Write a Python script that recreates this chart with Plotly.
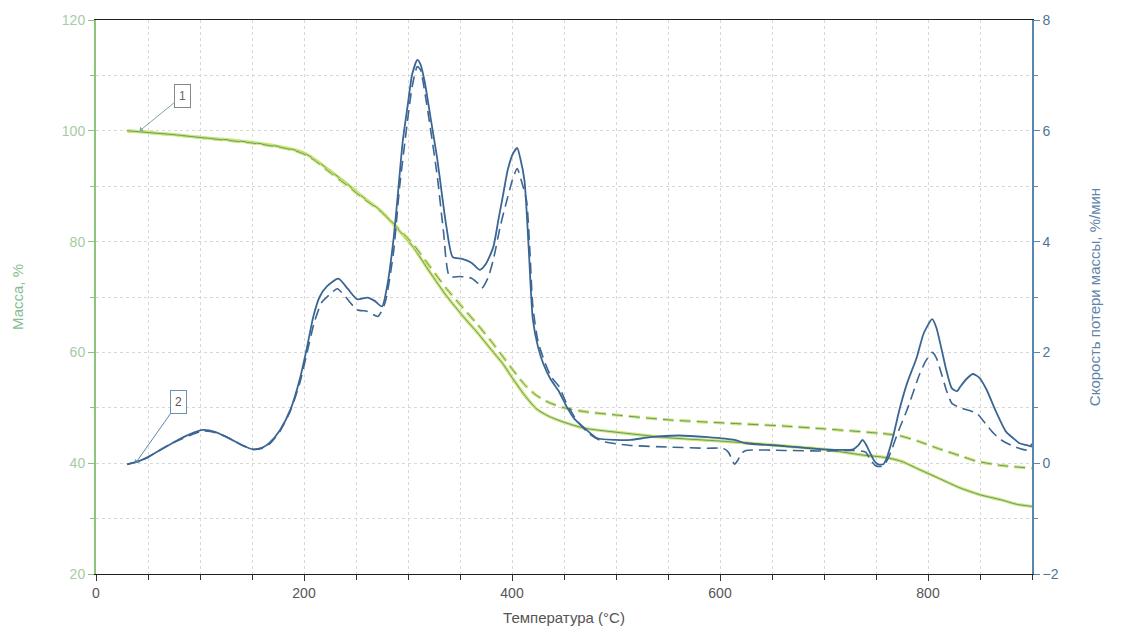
import plotly.graph_objects as go

# ---------------- data ----------------
tg_solid_T = [30, 50, 75, 100, 125, 150, 175, 190, 200, 210, 225, 241, 257, 273, 290, 305, 321, 337,
              353, 367, 380, 391, 401, 412, 423, 435, 450, 470, 500, 550, 600, 650, 700, 736, 760,
              775, 790, 809, 830, 850, 870, 885, 900]
tg_solid = [100.0, 99.7, 99.3, 98.8, 98.4, 97.9, 97.2, 96.6, 96.0, 94.9, 92.8, 90.5, 88.0, 85.7, 82.3,
            79.0, 74.5, 70.2, 66.5, 63.5, 60.5, 58.0, 55.2, 52.3, 49.9, 48.5, 47.4, 46.3, 45.6, 44.6,
            44.0, 43.3, 42.5, 41.5, 41.0, 40.3, 39.0, 37.4, 35.6, 34.3, 33.4, 32.6, 32.2]

tg_dash_T = [30, 50, 75, 100, 125, 150, 175, 190, 200, 210, 225, 241, 257, 273, 290, 305, 321, 337,
             353, 367, 380, 391, 401, 412, 423, 435, 450, 470, 500, 552, 600, 662, 700, 754, 772,
             790, 809, 830, 846, 870, 900]
tg_dash = [100.0, 99.7, 99.3, 98.8, 98.3, 97.8, 97.1, 96.5, 95.8, 94.7, 92.5, 90.2, 87.8, 85.6, 82.5,
           79.5, 75.5, 71.5, 68.0, 65.0, 62.0, 59.3, 56.8, 54.2, 52.3, 51.0, 50.0, 49.3, 48.7, 47.8,
           47.3, 46.7, 46.2, 45.4, 45.0, 44.0, 42.7, 41.4, 40.4, 39.6, 39.1]

dtg_solid_T = [30, 40, 49, 60, 74, 90, 103, 115, 129, 140, 151, 160, 167, 177, 187, 196, 203, 209, 215,
               222, 233, 242, 251, 261, 268, 275, 280, 286, 290, 295, 300, 304, 309, 312, 316, 322,
               328, 333, 337, 343, 352, 361, 369, 375, 382, 387, 391, 396, 401, 405, 408, 412, 416,
               420, 425, 430, 437, 445, 452, 460, 470, 482, 500, 514, 533, 560, 588, 614, 625, 662,
               699, 728, 733, 737, 740, 744, 748, 752, 757, 760, 766, 773, 780, 789, 796, 804, 808,
               813, 818, 823, 828, 831, 837, 843, 849, 856, 865, 875, 882, 888, 894, 900]
dtg_solid = [-0.02, 0.03, 0.1, 0.22, 0.37, 0.52, 0.6, 0.56, 0.44, 0.33, 0.25, 0.28, 0.37, 0.6, 0.97,
             1.52, 2.1, 2.65, 3.0, 3.19, 3.33, 3.15, 2.96, 2.99, 2.93, 2.83, 3.2, 4.03, 4.8, 5.82, 6.5,
             7.02, 7.28, 7.2, 6.89, 6.2, 5.51, 4.8, 4.26, 3.72, 3.69, 3.62, 3.49, 3.6, 3.9, 4.4, 4.8,
             5.3, 5.59, 5.69, 5.5, 5.1, 3.9, 2.6, 2.1, 1.8, 1.52, 1.3, 1.04, 0.8, 0.63, 0.45, 0.42,
             0.42, 0.47, 0.5, 0.47, 0.42, 0.36, 0.31, 0.25, 0.25, 0.32, 0.42, 0.35, 0.2, 0.05, -0.02,
             -0.02, 0.08, 0.45, 1.0, 1.45, 1.9, 2.35, 2.6, 2.45, 2.06, 1.65, 1.35, 1.3, 1.38, 1.52,
             1.61, 1.55, 1.34, 0.95, 0.57, 0.45, 0.36, 0.33, 0.3]

dtg_dash_T = [30, 40, 49, 60, 74, 90, 103, 115, 129, 140, 151, 160, 167, 177, 187, 196, 203, 210, 217,
              225, 232, 240, 251, 261, 271, 278, 286, 292, 299, 304, 309, 312, 317, 328, 334, 340,
              350, 361, 367, 371, 377, 382, 389, 395, 401, 405, 409, 414, 417, 420, 425, 432, 438,
              445, 452, 463, 475, 486, 500, 514, 552, 588, 603, 608, 612, 614, 617, 621, 625, 662,
              699, 728, 740, 745, 750, 757, 762, 772, 780, 792, 798, 804, 808, 813, 818, 823, 833,
              840, 847, 855, 863, 872, 882, 895, 900]
dtg_dash = [-0.02, 0.03, 0.1, 0.22, 0.37, 0.5, 0.58, 0.55, 0.44, 0.33, 0.25, 0.27, 0.35, 0.58, 0.95,
            1.45, 2.0, 2.55, 2.9, 3.05, 3.15, 3.0, 2.77, 2.74, 2.65, 2.9, 3.8, 5.0, 6.1, 6.8, 7.16,
            7.1, 6.6, 5.2, 4.2, 3.37, 3.37, 3.34, 3.25, 3.16, 3.35, 3.67, 4.3, 4.74, 5.15, 5.32, 5.1,
            4.74, 3.9, 2.84, 2.2, 1.8, 1.55, 1.39, 1.1, 0.75, 0.52, 0.4, 0.35, 0.32, 0.29, 0.27, 0.27,
            0.2, 0.05, -0.02, 0.05, 0.18, 0.23, 0.23, 0.22, 0.23, 0.2, 0.05, -0.05, -0.05, 0.1, 0.6,
            0.97, 1.61, 1.85, 2.0, 1.9, 1.61, 1.3, 1.08, 0.99, 0.95, 0.9, 0.72, 0.54, 0.4, 0.31,
            0.24, 0.35]

x_title = "Температура (°C)"
y_title = "Масса, %"
y2_title = "Скорость потери массы, %/мин"

# ---------------- styles ----------------
TG_GLOW = "#d2e56c"
TG_CORE = "#5a9a86"
DTG = "#3b6694"
TICKFONT = "Liberation Sans Narrow, Arial Narrow, Liberation Sans, sans-serif"

fig = go.Figure()

for T, v, dash in [(tg_solid_T, tg_solid, "solid"), (tg_dash_T, tg_dash, "11px,6px")]:
    fig.add_trace(go.Scatter(x=T, y=v, mode="lines", line=dict(color=TG_GLOW, width=3.2, dash=dash,
                                                               shape="spline", smoothing=0.6),
                             hoverinfo="skip", showlegend=False))
    fig.add_trace(go.Scatter(x=T, y=v, mode="lines", line=dict(color=TG_CORE, width=1.0, dash=dash,
                                                               shape="spline", smoothing=0.6),
                             showlegend=False))

fig.add_trace(go.Scatter(x=dtg_solid_T, y=dtg_solid, mode="lines", yaxis="y2",
                         line=dict(color=DTG, width=1.8, shape="spline", smoothing=0.6),
                         showlegend=False))
fig.add_trace(go.Scatter(x=dtg_dash_T, y=dtg_dash, mode="lines", yaxis="y2",
                         line=dict(color=DTG, width=1.6, dash="11px,6px", shape="spline", smoothing=0.6),
                         showlegend=False))

grid = dict(showgrid=True, gridcolor="#d8d8d8", griddash="dot", gridwidth=1)

fig.update_layout(
    width=1124, height=635,
    margin=dict(l=96, r=92, t=19, b=59),
    paper_bgcolor="white", plot_bgcolor="white",
    xaxis=dict(range=[0, 900], dtick=200, ticks="outside", ticklen=6, tickcolor="#333",
               showline=True, linecolor="#222", linewidth=1.2, mirror=True,
               tickfont=dict(family=TICKFONT, size=14, color="#555"),
               title=dict(text=x_title, font=dict(family="Liberation Sans", size=15, color="#555"),
                          standoff=12),
               zeroline=False,
               minor=dict(dtick=50, ticks="outside", ticklen=5, tickcolor="#333", **grid),
               **grid),
    yaxis=dict(range=[20, 120], dtick=20, ticks="outside", ticklen=6, tickcolor="#8cc47c",
               showline=True, linecolor="#8cc47c", linewidth=2,
               tickfont=dict(family=TICKFONT, size=14, color="#a6cba3"),
               title=dict(text=y_title, font=dict(family="Liberation Sans", size=15, color="#86bd92"),
                          standoff=35),
               zeroline=False,
               minor=dict(dtick=10, ticks="outside", ticklen=4, tickcolor="#8cc47c", **grid),
               **grid),
    yaxis2=dict(range=[-2, 8], dtick=2, overlaying="y", side="right", ticks="outside", ticklen=6,
                tickcolor="#5b86ad", showline=True, linecolor="#5b86ad", linewidth=1.5,
                tickfont=dict(family=TICKFONT, size=14, color="#4f7596"),
                title=dict(text=y2_title, font=dict(family="Liberation Sans", size=15, color="#5f84a8"),
                           standoff=32),
                zeroline=False, showgrid=False,
                minor=dict(dtick=1, ticks="outside", ticklen=4, tickcolor="#5b86ad")),
)

fig.add_annotation(x=42, y=100, xref="x", yref="y", text="1", showarrow=True,
                   ax=43, ay=-35, arrowhead=1, arrowsize=1, arrowwidth=1, arrowcolor="#7fa89a",
                   bordercolor="#888", borderwidth=1, borderpad=4, bgcolor="white",
                   font=dict(family=TICKFONT, size=12, color="#666"))
fig.add_annotation(x=38, y=0, xref="x", yref="y2", text="2", showarrow=True,
                   ax=43, ay=-61, arrowhead=1, arrowsize=1, arrowwidth=1, arrowcolor="#5b86ad",
                   bordercolor="#6f8fae", borderwidth=1, borderpad=4, bgcolor="white",
                   font=dict(family=TICKFONT, size=12, color="#555"))

fig.write_html("out.html")
